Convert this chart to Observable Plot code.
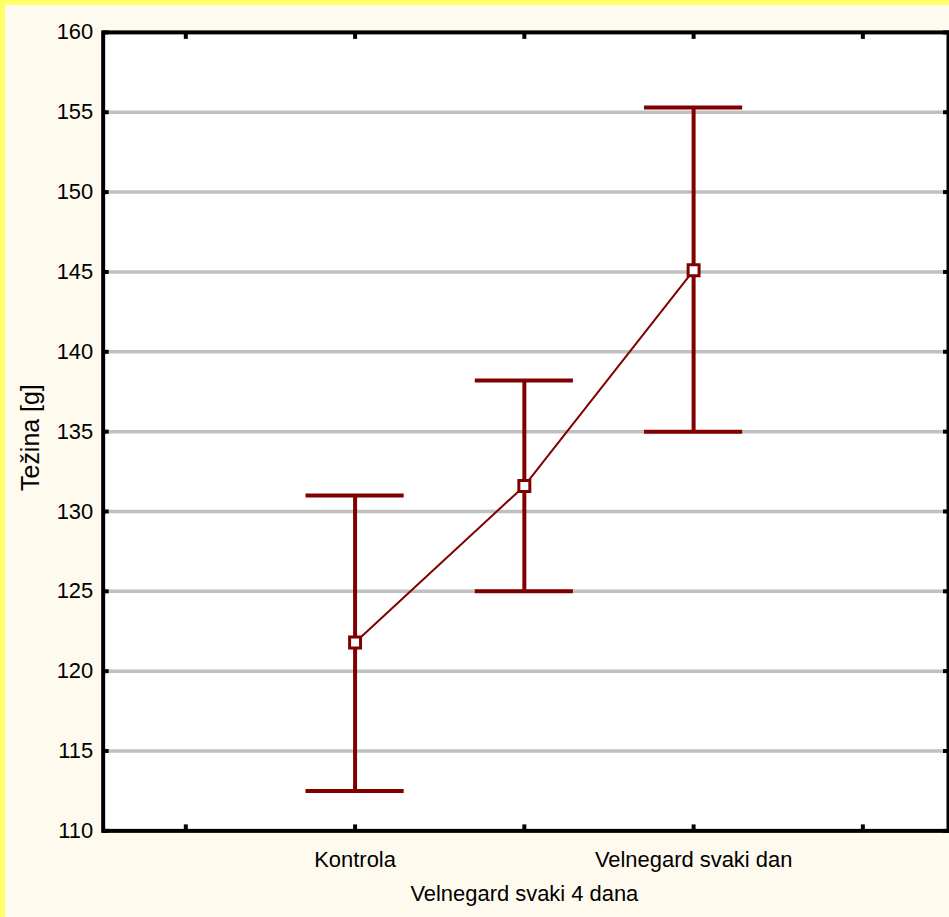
<!DOCTYPE html>
<html>
<head>
<meta charset="utf-8">
<script src="https://cdn.jsdelivr.net/npm/d3@7"></script>
<script src="https://cdn.jsdelivr.net/npm/@observablehq/plot@0.6"></script>
<style>
  html, body { margin: 0; padding: 0; overflow: hidden; }
  #wrap {
    position: absolute; left: 0; top: 0; width: 949px; height: 917px; overflow: hidden;
    background: #FFFAEE; box-shadow: inset 5px 5px 0 #FFFF66;
  }
  #wrap svg { display: block; background: transparent; }
</style>
</head>
<body>
<div id="wrap"></div>
<script>
// ---- data ----
const categories = ["Kontrola", "Velnegard svaki 4 dana", "Velnegard svaki dan"];
const means = [121.8, 131.6, 145.1];
const lower = [112.5, 125.0, 135.0];
const upper = [131.0, 138.2, 155.3];
const yTicks = [110, 115, 120, 125, 130, 135, 140, 145, 150, 155, 160];
const gridValues = [115, 120, 125, 130, 135, 140, 145, 150, 155];
const xTickPositions = [0, 1, 2, 3, 4];
const yTitle = "Težina [g]";

const rows = categories.map((c, i) => ({cat: c, pos: i + 1, mean: means[i], lo: lower[i], hi: upper[i], row: i % 2}));

const red = "#800000";
const capHalf = 0.29;
const font = 22;

const chart = Plot.plot({
  width: 952,
  height: 917,
  marginLeft: 103,
  marginRight: 1,
  marginTop: 32,
  marginBottom: 84,
  style: {fontFamily: "'Liberation Sans', Arial, sans-serif", fontSize: font + "px", color: "black", background: "transparent"},
  x: {type: "linear", domain: [-0.5, 4.5], range: [101, 950]},
  y: {domain: [110, 160]},
  marks: [
    Plot.frame({fill: "white", stroke: null}),
    Plot.ruleY(gridValues, {stroke: "#c0c0c0", strokeWidth: 3.5}),
    // error bars
    Plot.ruleX(rows, {x: "pos", y1: "lo", y2: "hi", stroke: red, strokeWidth: 4}),
    Plot.ruleY(rows, {y: "hi", x1: d => d.pos - capHalf, x2: d => d.pos + capHalf, stroke: red, strokeWidth: 4}),
    Plot.ruleY(rows, {y: "lo", x1: d => d.pos - capHalf, x2: d => d.pos + capHalf, stroke: red, strokeWidth: 4}),
    Plot.line(rows, {x: "pos", y: "mean", stroke: red, strokeWidth: 2}),
    Plot.dot(rows, {x: "pos", y: "mean", symbol: "square", r: 6.2, fill: "white", stroke: red, strokeWidth: 3}),
    // inward ticks
    Plot.axisY({anchor: "left", ticks: yTicks, tickSize: 6, dx: 6, tickFormat: () => "", strokeWidth: 4, label: null}),
    Plot.axisY({anchor: "right", ticks: yTicks, tickSize: 6, dx: -6, tickFormat: () => "", strokeWidth: 4, label: null}),
    Plot.axisX({anchor: "bottom", ticks: xTickPositions, tickSize: 6, dy: -6, tickFormat: () => "", strokeWidth: 4, label: null}),
    Plot.axisX({anchor: "top", ticks: xTickPositions, tickSize: 6, dy: 6, tickFormat: () => "", strokeWidth: 4, label: null}),
    // y tick labels
    Plot.axisY({anchor: "left", ticks: yTicks, tickSize: 0, tickPadding: 10, fontSize: font, label: null}),
    // x category labels (staggered)
    Plot.text(rows, {filter: d => d.row === 0, x: "pos", frameAnchor: "bottom", text: "cat", dy: 29, fontSize: font, lineAnchor: "middle", fill: "black"}),
    Plot.text(rows, {filter: d => d.row === 1, x: "pos", frameAnchor: "bottom", text: "cat", dy: 63, fontSize: font, lineAnchor: "middle", fill: "black"}),
    // y axis title
    Plot.text([yTitle], {text: d => d, frameAnchor: "left", textAnchor: "middle", rotate: -90, dx: -72, dy: 6, fontSize: 25, fill: "black", lineAnchor: "middle"}),
    // frame border
    Plot.frame({stroke: "black", strokeWidth: 4})
  ]
});
document.getElementById("wrap").appendChild(chart);
</script>
</body>
</html>
